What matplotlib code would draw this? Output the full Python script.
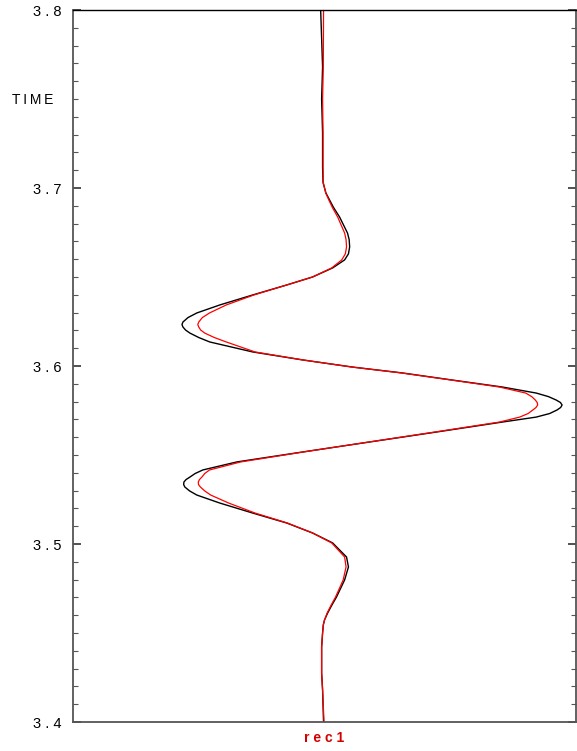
import matplotlib
matplotlib.use("Agg")
import matplotlib.pyplot as plt
from matplotlib.ticker import MultipleLocator, FixedLocator

plt.rcParams['font.family'] = ['Liberation Sans', 'DejaVu Sans']

# time samples (s) and trace amplitudes
time = [3.4000, 3.4180, 3.4275, 3.4421, 3.4500, 3.4545, 3.4573, 3.4612, 3.4655, 3.4702,
        3.4798, 3.4871, 3.4927, 3.5006, 3.5062, 3.5118, 3.5174, 3.5230, 3.5275, 3.5298,
        3.5320, 3.5334, 3.5348, 3.5362, 3.5376, 3.5396, 3.5416, 3.5461, 3.5517, 3.5573,
        3.5629, 3.5685, 3.5713, 3.5733, 3.5753, 3.5767, 3.5781, 3.5795, 3.5809, 3.5828,
        3.5848, 3.5882, 3.5921, 3.5961, 3.5994, 3.6034, 3.6079, 3.6135, 3.6160, 3.6185,
        3.6202, 3.6219, 3.6233, 3.6247, 3.6272, 3.6298, 3.6343, 3.6399, 3.6455, 3.6500,
        3.6551, 3.6596, 3.6630, 3.6669, 3.6710, 3.6747, 3.6837, 3.6890, 3.6933, 3.6972,
        3.7030, 3.7118, 3.7309, 3.7500, 3.7680, 3.8000]

black = [0.006, 0.002, -0.002, -0.002, 0.002, 0.005, 0.010, 0.023, 0.040, 0.060,
         0.094, 0.110, 0.102, 0.044, -0.040, -0.148, -0.290, -0.427, -0.523, -0.553,
         -0.573, -0.578, -0.577, -0.568, -0.552, -0.530, -0.498, -0.356, -0.081, 0.198,
         0.477, 0.752, 0.894, 0.950, 0.981, 0.996, 1.002, 0.995, 0.977, 0.945,
         0.894, 0.752, 0.544, 0.335, 0.127, -0.081, -0.290, -0.469, -0.515, -0.552,
         -0.570, -0.581, -0.585, -0.581, -0.560, -0.523, -0.427, -0.290, -0.148, -0.040,
         0.044, 0.094, 0.110, 0.115, 0.113, 0.106, 0.073, 0.048, 0.031, 0.016,
         0.004, 0.002, 0.002, -0.002, 0.002, -0.006]

red = [0.008, 0.002, -0.002, -0.002, 0.002, 0.005, 0.010, 0.021, 0.037, 0.056,
       0.088, 0.100, 0.094, 0.040, -0.040, -0.145, -0.280, -0.390, -0.465, -0.490,
       -0.508, -0.516, -0.517, -0.512, -0.502, -0.490, -0.470, -0.340, -0.078, 0.195,
       0.470, 0.740, 0.825, 0.860, 0.880, 0.893, 0.900, 0.898, 0.890, 0.875,
       0.850, 0.740, 0.540, 0.330, 0.125, -0.080, -0.280, -0.400, -0.450, -0.490,
       -0.507, -0.515, -0.519, -0.515, -0.500, -0.470, -0.400, -0.285, -0.148, -0.040,
       0.040, 0.082, 0.097, 0.102, 0.100, 0.094, 0.065, 0.043, 0.028, 0.015,
       0.005, 0.004, 0.004, 0.002, 0.005, 0.006]

yticks = [3.4, 3.5, 3.6, 3.7, 3.8]
ytick_labels = ["3 . 4", "3 . 5", "3 . 6", "3 . 7", "3 . 8"]

fig = plt.figure(figsize=(5.77, 7.51), dpi=100)
ax = fig.add_axes([73 / 577, 1 - 722 / 751, 503 / 577, 712 / 751])

ax.plot(black, time, color='black', lw=1.0, solid_joinstyle='round')
ax.plot(red, time, color='red', lw=0.9, solid_joinstyle='round')

ax.set_xlim(-1.04, 1.06)
ax.set_ylim(3.4, 3.8)

ax.yaxis.set_major_locator(FixedLocator(yticks))
ax.set_yticklabels(ytick_labels, fontsize=10.5)
ax.yaxis.set_minor_locator(MultipleLocator(0.01))
ax.tick_params(axis='y', which='major', direction='in', length=6, width=1.2,
               right=True, pad=8, colors='#333333', labelcolor='black')
ax.tick_params(axis='y', which='minor', direction='in', length=3.5, width=0.8,
               right=True, colors='#555555')
ax.set_xticks([])

for side in ['left', 'bottom', 'right']:
    ax.spines[side].set_color('#555555')
    ax.spines[side].set_linewidth(1.3)
ax.spines['top'].set_color('black')
ax.spines['top'].set_linewidth(1.0)

fig.text(12 / 577, 1 - 100 / 751, "T\u2009I\u2009M\u2009E", fontsize=10,
         ha='left', va='center')
fig.text(324 / 577, 1 - 738 / 751, "r e c 1", color='#d40000', fontsize=10,
         fontweight='bold', ha='center', va='center')

fig.savefig("out.png", dpi=100)
